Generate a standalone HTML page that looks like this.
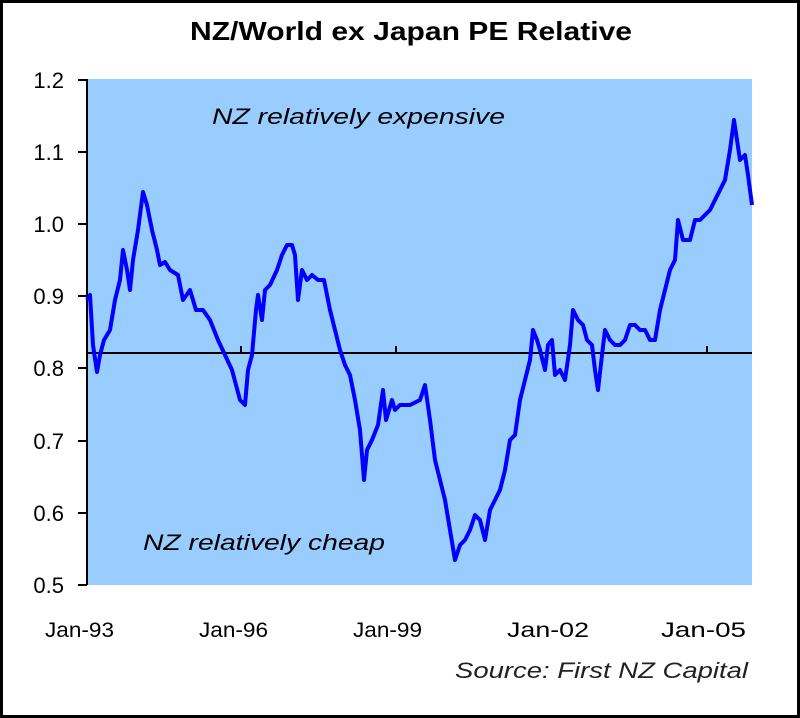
<!DOCTYPE html>
<html><head><style>
html,body{margin:0;padding:0;background:#fff;}
svg{display:block;}
</style></head><body>
<svg width="800" height="718" xmlns="http://www.w3.org/2000/svg" font-family="Liberation Sans, Arial, sans-serif">
<rect x="1.5" y="1.5" width="797" height="715" fill="#fff" stroke="#000" stroke-width="3"/>
<text x="190" y="40" font-size="26" font-weight="bold" textLength="442" lengthAdjust="spacingAndGlyphs">NZ/World ex Japan PE Relative</text>
<rect x="87" y="79" width="665" height="506" fill="#99CCFF"/>
<line x1="87" y1="79" x2="87" y2="585" stroke="#000" stroke-width="2"/>
<g stroke="#000" stroke-width="2">
<line x1="78" y1="80" x2="87" y2="80"/><line x1="78" y1="152" x2="87" y2="152"/>
<line x1="78" y1="224" x2="87" y2="224"/><line x1="78" y1="296" x2="87" y2="296"/>
<line x1="78" y1="368" x2="87" y2="368"/><line x1="78" y1="441" x2="87" y2="441"/>
<line x1="78" y1="513" x2="87" y2="513"/><line x1="78" y1="585" x2="87" y2="585"/>
<line x1="87" y1="353" x2="752" y2="353"/>
<line x1="241" y1="346" x2="241" y2="353"/><line x1="396" y1="346" x2="396" y2="353"/>
<line x1="552" y1="346" x2="552" y2="353"/><line x1="707" y1="346" x2="707" y2="353"/>
</g>
<g font-size="22" text-anchor="end">
<text x="64" y="88">1.2</text><text x="64" y="160">1.1</text><text x="64" y="232">1.0</text>
<text x="64" y="304">0.9</text><text x="64" y="376">0.8</text><text x="64" y="449">0.7</text>
<text x="64" y="521">0.6</text><text x="64" y="593">0.5</text>
</g>
<g font-size="21">
<text x="45" y="637" textLength="69" lengthAdjust="spacingAndGlyphs">Jan-93</text>
<text x="199" y="637" textLength="69" lengthAdjust="spacingAndGlyphs">Jan-96</text>
<text x="353" y="637" textLength="69" lengthAdjust="spacingAndGlyphs">Jan-99</text>
<text x="507" y="637" textLength="82" lengthAdjust="spacingAndGlyphs">Jan-02</text>
<text x="661" y="637" textLength="85" lengthAdjust="spacingAndGlyphs">Jan-05</text>
</g>
<text x="212" y="124" font-size="22" font-style="italic" textLength="293" lengthAdjust="spacingAndGlyphs">NZ relatively expensive</text>
<text x="143" y="550" font-size="22" font-style="italic" textLength="242" lengthAdjust="spacingAndGlyphs">NZ relatively cheap</text>
<text x="455" y="678" font-size="22" font-style="italic" fill="#222" textLength="293" lengthAdjust="spacingAndGlyphs">Source: First NZ Capital</text>
<polyline fill="none" stroke="#0000FF" stroke-width="4" stroke-linejoin="round" points="87,300 90,295 93,345 97,372 100,355 104,340 110,330 115,300 120,280 123,250 127,270 130,290 133,260 138,230 143,192 147,205 152,230 157,250 160,265 165,262 170,270 178,275 183,300 190,290 196,310 203,310 210,320 218,340 225,355 232,370 236,385 240,400 245,405 248,370 252,355 256,310 258,295 262,320 265,290 270,285 277,270 282,255 287,245 292,245 295,255 298,300 302,270 307,280 312,275 318,280 324,280 330,310 335,330 340,350 345,365 350,375 355,400 360,430 364,480 367,450 372,440 378,425 383,390 386,420 392,400 395,410 400,405 410,405 420,400 425,385 430,420 435,460 440,480 445,500 450,530 455,560 460,545 465,540 470,530 475,515 480,520 485,540 490,510 495,500 500,490 505,470 510,440 515,435 520,400 525,380 530,360 533,330 537,340 540,350 545,370 548,345 552,340 555,375 560,370 565,380 570,345 573,310 578,320 583,325 587,340 592,345 595,370 598,390 602,355 605,330 610,340 615,345 620,345 625,340 630,325 635,325 640,330 645,330 650,340 655,340 660,310 665,290 670,270 675,260 678,220 683,240 690,240 695,220 700,220 705,215 710,210 715,200 720,190 725,180 730,150 734,120 737,140 740,160 745,155 748,175 752,205"/>
</svg>
</body></html>
